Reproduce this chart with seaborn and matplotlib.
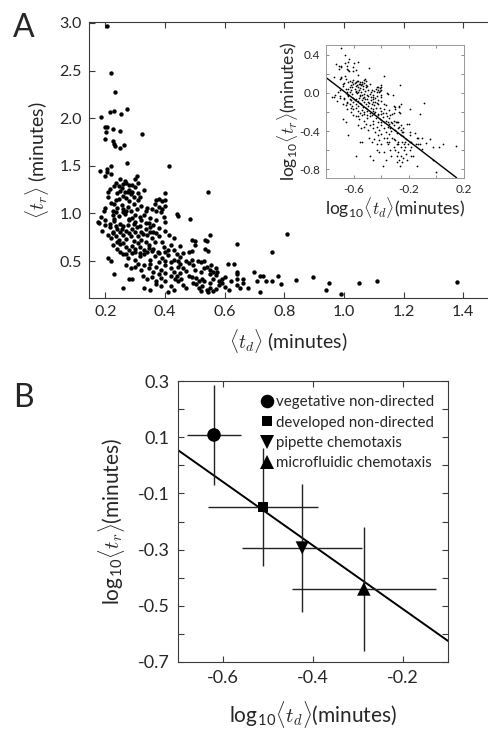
import numpy as np
import pandas as pd
import matplotlib
matplotlib.use("Agg")
import matplotlib.pyplot as plt
import seaborn as sns

# ---------------- Panel A data: (<t_d>, <t_r>) in minutes ----------------
pts_upper = [(0.204,2.97),(0.219,2.47),(0.233,2.27),(0.272,2.10),(0.228,2.08),(0.216,2.06),(0.253,2.04),
             (0.186,2.01),(0.197,1.91),(0.205,1.91),(0.224,1.89),(0.250,1.87),(0.202,1.85),(0.324,1.83),
             (0.197,1.78),(0.226,1.76),(0.229,1.73),(0.232,1.71),(0.261,1.72),(0.248,1.69),(0.272,1.53),
             (0.219,1.50),(0.415,1.50),(0.205,1.47),(0.182,1.45),(0.205,1.43),(0.200,1.39),(0.22,1.41)]
pts_band = [(0.25,1.36),(0.30,1.36),(0.305,1.39),(0.31,1.32),(0.235,1.32),(0.23,1.29),(0.26,1.31),(0.27,1.32),
            (0.28,1.30),(0.29,1.30),(0.245,1.29),(0.21,1.23),(0.25,1.24),(0.265,1.22),(0.275,1.23),(0.29,1.23),
            (0.285,1.20),(0.33,1.25),(0.40,1.21),(0.26,1.18),(0.27,1.16),(0.245,1.15),(0.28,1.13),(0.295,1.17),
            (0.31,1.14),(0.315,1.17),(0.22,1.11),(0.23,1.10),(0.37,1.14),(0.39,1.13),(0.365,1.10),(0.34,1.06),
            (0.355,1.05),(0.37,1.03),(0.39,1.05),(0.385,1.01),(0.335,1.03),(0.20,1.06),(0.195,1.03),(0.24,1.06),
            (0.26,1.05),(0.26,1.01),(0.27,1.03),(0.285,1.03),(0.235,1.01),(0.225,1.03),(0.44,0.99),(0.38,1.15),
            (0.40,1.14),(0.40,1.08),(0.38,1.07),(0.545,1.22)]
pts_mid = [(0.23,0.94),(0.28,0.94),(0.29,0.95),(0.33,0.98),(0.395,0.96),(0.445,0.97),(0.485,0.94),(0.175,0.91),
           (0.185,0.96),(0.18,0.90),(0.20,0.93),(0.215,0.89),(0.23,0.92),(0.25,0.89),(0.28,0.93),(0.30,0.91),
           (0.32,0.93),(0.345,0.90),(0.40,0.91),(0.19,0.82),(0.215,0.86),(0.225,0.81),(0.24,0.84),(0.26,0.87),
           (0.27,0.82),(0.29,0.84),(0.305,0.86),(0.32,0.81),(0.335,0.84),(0.35,0.86),(0.36,0.81),(0.21,0.77),
           (0.22,0.74),(0.235,0.76),(0.245,0.72),(0.26,0.77),(0.27,0.73),(0.285,0.76),(0.295,0.71),(0.31,0.76),
           (0.32,0.72),(0.34,0.77),(0.355,0.74),(0.365,0.70),(0.38,0.76),(0.415,0.77),(0.225,0.67),(0.24,0.63),
           (0.25,0.68),(0.27,0.65),(0.28,0.62),(0.29,0.66),(0.30,0.63),(0.315,0.65),(0.33,0.62),(0.345,0.67),
           (0.36,0.63),(0.375,0.60),(0.395,0.65),(0.41,0.62),(0.42,0.67)]
pts_low = [(0.21,0.53),(0.22,0.50),(0.26,0.57),(0.275,0.53),(0.29,0.58),(0.30,0.51),(0.315,0.55),(0.33,0.57),
           (0.35,0.51),(0.365,0.55),(0.38,0.58),(0.39,0.53),(0.41,0.56),(0.43,0.51),(0.44,0.57),(0.27,0.46),
           (0.285,0.43),(0.30,0.44),(0.32,0.41),(0.33,0.46),(0.345,0.43),(0.36,0.39),(0.37,0.44),(0.385,0.41),
           (0.40,0.46),(0.42,0.43),(0.43,0.39),(0.445,0.44),(0.23,0.36),(0.28,0.31),(0.29,0.31),(0.325,0.34),
           (0.34,0.31),(0.355,0.33),(0.37,0.29),(0.385,0.32),(0.40,0.29),(0.42,0.34),(0.435,0.31),(0.26,0.22),
           (0.33,0.22),(0.35,0.20),(0.41,0.17),(0.37,0.255),(0.385,0.24),(0.42,0.24),(0.43,0.20)]
pts_right = [(0.55,0.77),(0.54,0.71),(0.545,0.61),(0.50,0.71),(0.50,0.67),(0.49,0.61),(0.48,0.60),(0.64,0.68),
             (0.45,0.54),(0.445,0.50),(0.49,0.51),(0.48,0.48),(0.495,0.46),(0.51,0.50),(0.52,0.49),(0.53,0.50),
             (0.54,0.44),(0.555,0.46),(0.57,0.43),(0.56,0.39),(0.575,0.39),(0.55,0.36),(0.46,0.43),(0.45,0.375),
             (0.455,0.31),(0.445,0.29),(0.47,0.22),(0.48,0.34),(0.495,0.27),(0.505,0.255),(0.515,0.22),(0.525,0.24),
             (0.54,0.20),(0.545,0.17),(0.55,0.22),(0.56,0.19),(0.55,0.27),(0.505,0.32),(0.515,0.29),(0.525,0.31),
             (0.59,0.31),(0.59,0.27),(0.58,0.25),(0.61,0.47),(0.63,0.47),(0.64,0.39),(0.64,0.36),(0.66,0.31),
             (0.64,0.31),(0.615,0.20),(0.64,0.25),(0.65,0.22),(0.68,0.22),(0.49,0.72),(0.535,0.72),(0.535,0.63)]
pts_tail = [(0.70,0.38),(0.72,0.34),(0.71,0.29),(0.73,0.34),(0.72,0.17),(0.74,0.29),(0.76,0.29),(0.76,0.60),
            (0.78,0.34),(0.79,0.26),(0.81,0.78),(0.84,0.30),(0.895,0.33),(0.95,0.27),(0.94,0.20),(0.99,0.15),
            (1.05,0.27),(1.11,0.29),(1.38,0.28)]
pts_core = [(0.215,1.26),(0.24,1.21),(0.255,1.27),(0.265,1.34),(0.28,1.25),(0.30,1.28),(0.31,1.21),(0.235,1.14),
            (0.255,1.09),(0.275,1.07),(0.295,1.10),(0.305,1.05),(0.32,1.08),(0.21,1.17),(0.225,0.98),(0.245,0.97),
            (0.265,0.99),(0.30,0.98),(0.315,0.96),(0.35,0.95),(0.37,0.93),(0.20,0.88),(0.235,0.87),(0.255,0.84),
            (0.275,0.88),(0.295,0.89),(0.315,0.87),(0.335,0.90),(0.36,0.88),(0.38,0.85),(0.225,0.79),(0.25,0.80),
            (0.28,0.79),(0.30,0.80),(0.325,0.78),(0.35,0.80),(0.37,0.79),(0.40,0.82),(0.43,0.74),(0.24,0.70),
            (0.26,0.69),(0.31,0.69),(0.335,0.70),(0.345,0.64),(0.39,0.70),(0.40,0.60),(0.43,0.62),(0.45,0.66),
            (0.46,0.58),(0.30,0.60),(0.315,0.58),(0.34,0.59),(0.355,0.61),(0.25,0.59),(0.27,0.57),(0.31,0.47),
            (0.35,0.47),(0.38,0.49),(0.40,0.50),(0.42,0.49),(0.45,0.47),(0.47,0.50),(0.47,0.40),(0.50,0.41),
            (0.52,0.38),(0.53,0.43),(0.55,0.41),(0.57,0.35),(0.58,0.29),(0.60,0.33),(0.56,0.31),(0.53,0.29),
            (0.49,0.33),(0.46,0.25),(0.40,0.37),(0.38,0.36),(0.44,0.34),(0.62,0.29),(0.60,0.23),(0.57,0.21),
            (0.52,0.19),(0.66,0.27)]

# Inset fit line endpoints (log10 units)
inset_fit_x = [-0.80, 0.146]
inset_fit_y = [0.16, -0.887]

# ---------------- Panel B data ----------------
categories = ["vegetative non-directed", "developed non-directed", "pipette chemotaxis", "microfluidic chemotaxis"]
markers_b = ["o", "s", "v", "^"]
log_td = [-0.62, -0.511, -0.424, -0.287]
log_tr = [0.108, -0.148, -0.294, -0.44]
err_td = [0.06, 0.122, 0.133, 0.16]
err_tr = [0.178, 0.21, 0.228, 0.22]
fit_b_x = [-0.70, -0.10]
fit_b_y = [0.054, -0.625]

# ---------------- style ----------------
sns.set_theme(style="ticks")
plt.rcParams["font.family"] = ["Lato", "DejaVu Sans"]
plt.rcParams["mathtext.fontset"] = "cm"
plt.rcParams["axes.unicode_minus"] = False
EDGE = "#3a3a3a"

all_pts = pts_upper + pts_band + pts_mid + pts_low + pts_right + pts_tail + pts_core
dfA = pd.DataFrame(all_pts, columns=["td", "tr"])
dfA["log_td"] = np.log10(dfA["td"])
dfA["log_tr"] = np.log10(dfA["tr"])

fig = plt.figure(figsize=(4.88, 7.30), dpi=100)

def style_axes(ax, lw=0.8):
    for s in ax.spines.values():
        s.set_color(EDGE)
        s.set_linewidth(lw)

# ---------------- Panel A ----------------
axA = fig.add_axes([89/488, 1-298/730, (487-89)/488, (298-22)/730])
sns.scatterplot(data=dfA, x="td", y="tr", ax=axA, s=10, color="black", linewidth=0, legend=False)
axA.set_xlim(0.145, 1.48)
axA.set_ylim(0.112, 3.01)
axA.set_xticks([0.2, 0.4, 0.6, 0.8, 1.0, 1.2, 1.4])
axA.set_xticklabels(["0.2", "0.4", "0.6", "0.8", "1.0", "1.2", "1.4"])
axA.set_yticks([0.5, 1.0, 1.5, 2.0, 2.5, 3.0])
axA.set_yticklabels(["0.5", "1.0", "1.5", "2.0", "2.5", "3.0"])
axA.tick_params(direction="in", length=4, width=0.8, color=EDGE, top=True, right=False,
                labelsize=11.5, pad=5)
axA.spines["right"].set_visible(False)
style_axes(axA)
axA.set_xlabel(r"$\langle t_d\rangle$ (minutes)", fontsize=14, labelpad=6)
axA.set_ylabel(r"$\langle t_r\rangle$ (minutes)", fontsize=14, labelpad=6)

# inset
axI = fig.add_axes([326/488, 1-178/730, (464-326)/488, (178-45)/730])
sns.scatterplot(data=dfA, x="log_td", y="log_tr", ax=axI, s=1.6, color="black", linewidth=0, legend=False)
sns.lineplot(x=inset_fit_x, y=inset_fit_y, ax=axI, color="black", linewidth=1.0)
axI.set_xlim(-0.8, 0.2)
axI.set_ylim(-0.89, 0.5)
axI.set_xticks([-0.6, -0.2, 0.2])
axI.set_xticklabels(["-0.6", "-0.2", "0.2"])
axI.set_xticks([-0.4, 0.0], minor=True)
axI.set_yticks([0.4, 0.0, -0.4, -0.8])
axI.set_yticklabels(["0.4", "0.0", "-0.4", "-0.8"])
axI.set_yticks([0.2, -0.2, -0.6], minor=True)
axI.tick_params(which="both", direction="in", length=2, width=0.6, color="#777777",
                top=True, right=True, labelsize=8.5, pad=4)
for s in axI.spines.values():
    s.set_color("#999999")
    s.set_linewidth(0.7)
axI.set_xlabel(r"log$_{\mathregular{10}}\langle t_d\rangle$(minutes)", fontsize=12.5, labelpad=0)
axI.set_ylabel(r"log$_{\mathregular{10}}\langle t_r\rangle$(minutes)", fontsize=12.5, labelpad=0)

fig.text(13/488, 1-37/730, "A", fontsize=23, ha="left", va="baseline")

# ---------------- Panel B ----------------
axB = fig.add_axes([178/488, 1-662/730, (448-178)/488, (662-381)/730])
sns.lineplot(x=fit_b_x, y=fit_b_y, ax=axB, color="black", linewidth=1.4)
axB.errorbar(log_td, log_tr, xerr=err_td, yerr=err_tr, fmt="none", ecolor="#222222",
             elinewidth=1.0, capsize=0)
dfB = pd.DataFrame({"log_td": log_td, "log_tr": log_tr, "cond": categories})
sns.scatterplot(data=dfB, x="log_td", y="log_tr", style="cond", style_order=categories,
                markers=dict(zip(categories, markers_b)),
                size="cond", size_order=categories,
                sizes=dict(zip(categories, [95, 55, 90, 95])),
                color="black", linewidth=0, ax=axB, zorder=5)
axB.set_xlim(-0.7, -0.1)
axB.set_ylim(-0.7, 0.3)
axB.set_xticks([-0.6, -0.4, -0.2])
axB.set_xticklabels(["-0.6", "-0.4", "-0.2"])
axB.set_yticks([0.3, 0.1, -0.1, -0.3, -0.5, -0.7])
axB.set_yticklabels(["0.3", "0.1", "-0.1", "-0.3", "-0.5", "-0.7"])
axB.set_yticks([0.2, 0.0, -0.2, -0.4, -0.6], minor=True)
axB.tick_params(which="both", direction="in", length=4, width=0.8, color=EDGE,
                top=True, right=True, labelsize=13, pad=6)
style_axes(axB)
axB.set_xlabel(r"log$_{\mathregular{10}}\langle t_d\rangle$(minutes)", fontsize=15, labelpad=9)
axB.set_ylabel(r"log$_{\mathregular{10}}\langle t_r\rangle$(minutes)", fontsize=15, labelpad=8)
leg = axB.legend(loc="upper right", frameon=False, fontsize=10.8, handletextpad=0.0,
                 labelspacing=0.42, borderaxespad=0.55, handlelength=1.2, markerscale=1.0)
fig.text(13/488, 1-407/730, "B", fontsize=23, ha="left", va="baseline")

fig.savefig("out.png", dpi=100)
